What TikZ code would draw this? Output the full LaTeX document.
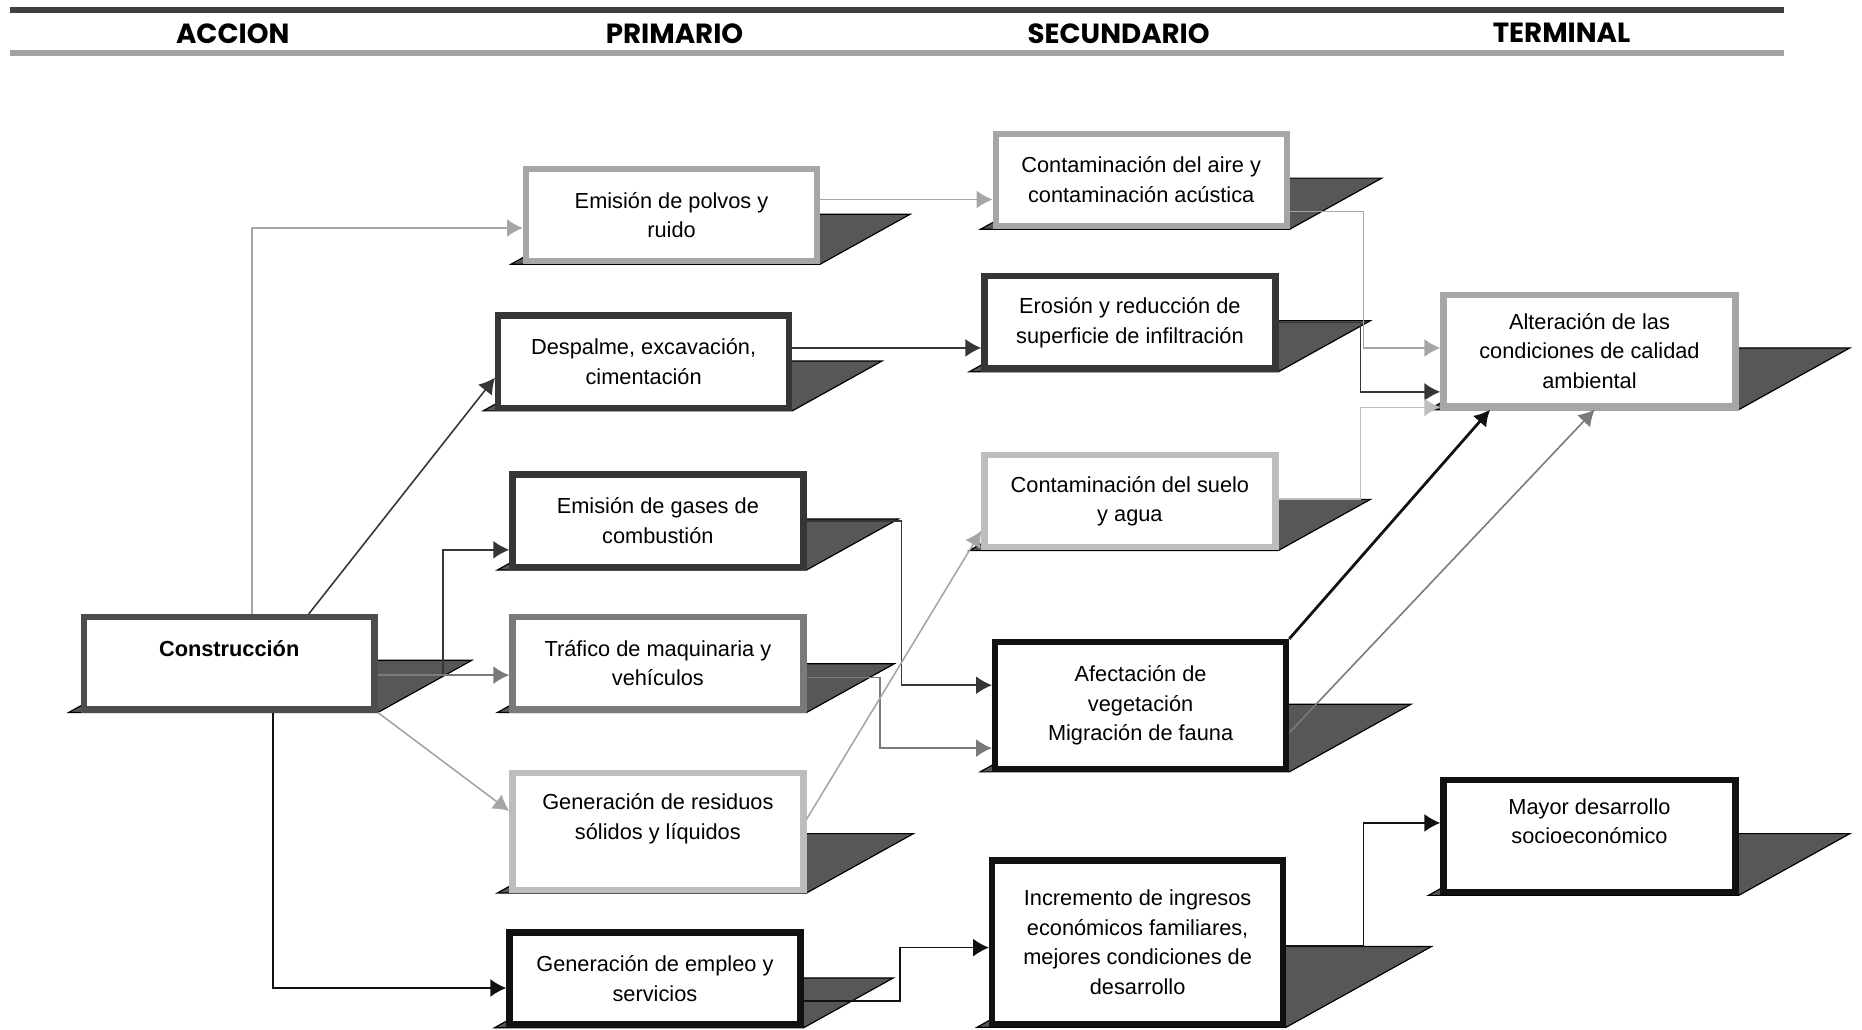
\documentclass[tikz,border=0pt]{standalone}
\usepackage{fontspec}
\setmainfont{Liberation Sans}
\newfontfamily\headfont{Poppins}
\usetikzlibrary{arrows.meta,calc,backgrounds}

\definecolor{cblack}{HTML}{111111}
\definecolor{cdark}{HTML}{363636}
\definecolor{cconstr}{HTML}{4D4D4D}
\definecolor{cmid}{HTML}{7A7A7A}
\definecolor{clight}{HTML}{A6A6A6}
\definecolor{cpale}{HTML}{BDBDBD}

\tikzset{
    box/.style={draw, line width=3.2pt, fill=white, minimum width=147pt, minimum height=46.6pt,
        align=center, inner sep=2pt, font=\fontsize{11}{15}\selectfont},
    con/.style={line width=0.8pt, -{Latex[length=8pt, width=9pt]}},
    boxfloor/.style={fill=black!66, draw=black, line width=0.6pt},
    head/.style={font=\headfont\bfseries\fontsize{14}{16}\selectfont},
}
\newcommand{\floorunder}[2]{\filldraw[boxfloor] ($(#1.south west)+(-10,0)$) -- (#1.south east)
    -- ++(1.8*#2,-#2) -- ($(#1.south west)+(-10+1.8*#2,-#2)$) -- cycle;}

\begin{document}
\begin{tikzpicture}[x=0.6pt, y=-0.6pt]
    \useasboundingbox (0,0) rectangle (1568,867);
    \draw[line width=3pt, color=black!75] (8,8.5) -- (1502,8.5);
    \draw[line width=3pt, color=black!36] (8,45) -- (1502,45);
    \node[head] (hacc) at (196,28) {ACCION};
    \node[head] (hpri) at (568,28) {PRIMARIO};
    \node[head] (hsec) at (942,28) {SECUNDARIO};
    \node[head] (hter) at (1315,28) {TERMINAL};

    \node[box, draw=cconstr, font=\fontsize{11}{15}\selectfont\bfseries] (constr) at (193,558.5) {Construcción\\ \mbox{}};
    \node[box, draw=clight] (polvos) at (565.5,181) {Emisión de polvos y\\ruido};
    \node[box, draw=cdark] (despalme) at (542,304.5) {Despalme, excavación,\\cimentación};
    \node[box, draw=cdark] (gases) at (554,438.5) {Emisión de gases de\\combustión};
    \node[box, draw=cmid] (trafico) at (554,558.5) {Tráfico de maquinaria y\\vehículos};
    \node[box, draw=cpale, minimum height=59.2pt] (residuos) at (554,700) {Generación de residuos\\sólidos y líquidos\\ \mbox{}};
    \node[box, draw=cblack] (empleo) at (551.5,824) {Generación de empleo y\\servicios};
    \node[box, draw=clight] (aire) at (961,151.5) {Contaminación del aire y\\contaminación acústica};
    \node[box, draw=cdark] (erosion) at (951.5,271.5) {Erosión y reducción de\\superficie de infiltración};
    \node[box, draw=cpale] (suelo) at (951.5,422) {Contaminación del suelo\\y agua};
    \node[box, draw=cblack, minimum height=64pt] (afecta) at (960.5,594) {Afectación de\\vegetación\\Migración de fauna};
    \node[box, draw=cblack, minimum height=82.6pt] (ingresos) at (958,793.5) {Incremento de ingresos\\económicos familiares,\\mejores condiciones de\\desarrollo};
    \node[box, draw=clight, minimum height=56.2pt, minimum width=147.6pt] (alter) at (1338.5,295.5) {Alteración de las\\condiciones de calidad\\ambiental};
    \node[box, draw=cblack, minimum height=56.8pt, minimum width=147.6pt] (mayor) at (1338.5,704) {Mayor desarrollo\\socioeconómico\\ \mbox{}};

    \begin{pgfonlayer}{background}
        \floorunder{constr}{44}
        \floorunder{polvos}{42}
        \floorunder{despalme}{42}
        \floorunder{gases}{43}
        \floorunder{trafico}{41}
        \floorunder{residuos}{50}
        \floorunder{empleo}{42}
        \floorunder{aire}{43}
        \floorunder{erosion}{43}
        \floorunder{suelo}{43}
        \floorunder{afecta}{57}
        \floorunder{ingresos}{68}
        \floorunder{alter}{52}
        \floorunder{mayor}{52}

        \draw[con, color=clight] ($(constr.north)+(19,0)$) |- ($(polvos.west)+(0,11)$);
        \draw[con, color=cdark] ($(constr.north)+(67,0)$) -- ($(despalme.west)+(0,13.5)$);
        \draw[con, color=cdark] ($(constr.east)+(0,10)$) -- ++(55,0) |- ($(gases.west)+(0,24.5)$);
        \draw[con, color=cmid] ($(constr.east)+(0,10)$) -- ($(trafico.west)+(0,10)$);
        \draw[con, color=clight] (constr.south east) -- ($(residuos.west)+(0,-17)$);
        \draw[con, color=cblack] ($(constr.south)+(37,0)$) |- ($(empleo.west)+(0,8)$);

        \draw[con, color=clight] ($(polvos.east)+(0,-13)$) -- ($(aire.west)+(0,16.5)$);
        \draw[con, color=cdark] ($(despalme.east)+(0,-11.5)$) -- ($(erosion.west)+(0,21.5)$);
        \draw[con, color=cdark] (gases.east) -- ++(80,0) |- ($(afecta.west)+(0,-17)$);
        \draw[con, color=cmid] ($(trafico.east)+(0,12)$) -- ++(62,0) |- ($(afecta.west)+(0,36)$);
        \draw[con, color=clight] ($(residuos.east)+(0,-10)$) -- ($(suelo.west)+(0,25)$);
        \draw[con, color=cblack] ($(empleo.east)+(0,19)$) -- ++(81,0) |- ($(ingresos.west)+(0,4.5)$);

        \draw[con, color=clight] ($(aire.east)+(0,26.5)$) -- ++(62,0) |- ($(alter.west)+(0,-2.5)$);
        \draw[con, color=cdark] (erosion.east) -- ++(69,0) |- ($(alter.west)+(0,34.5)$);
        \draw[con, color=cpale] ($(suelo.east)+(0,-2)$) -- ++(69,0) |- ($(alter.west)+(0,47.5)$);
        \draw[con, color=cblack, line width=1.4pt] (afecta.north east) -- ($(alter.south west)+(42,0)$);
        \draw[con, color=cmid] ($(afecta.east)+(0,23)$) -- ($(alter.south west)+(130,0)$);
        \draw[con, color=cblack] ($(ingresos.east)+(0,3)$) -- ++(65,0) |- ($(mayor.west)+(0,-11)$);
    \end{pgfonlayer}
\end{tikzpicture}
\end{document}
